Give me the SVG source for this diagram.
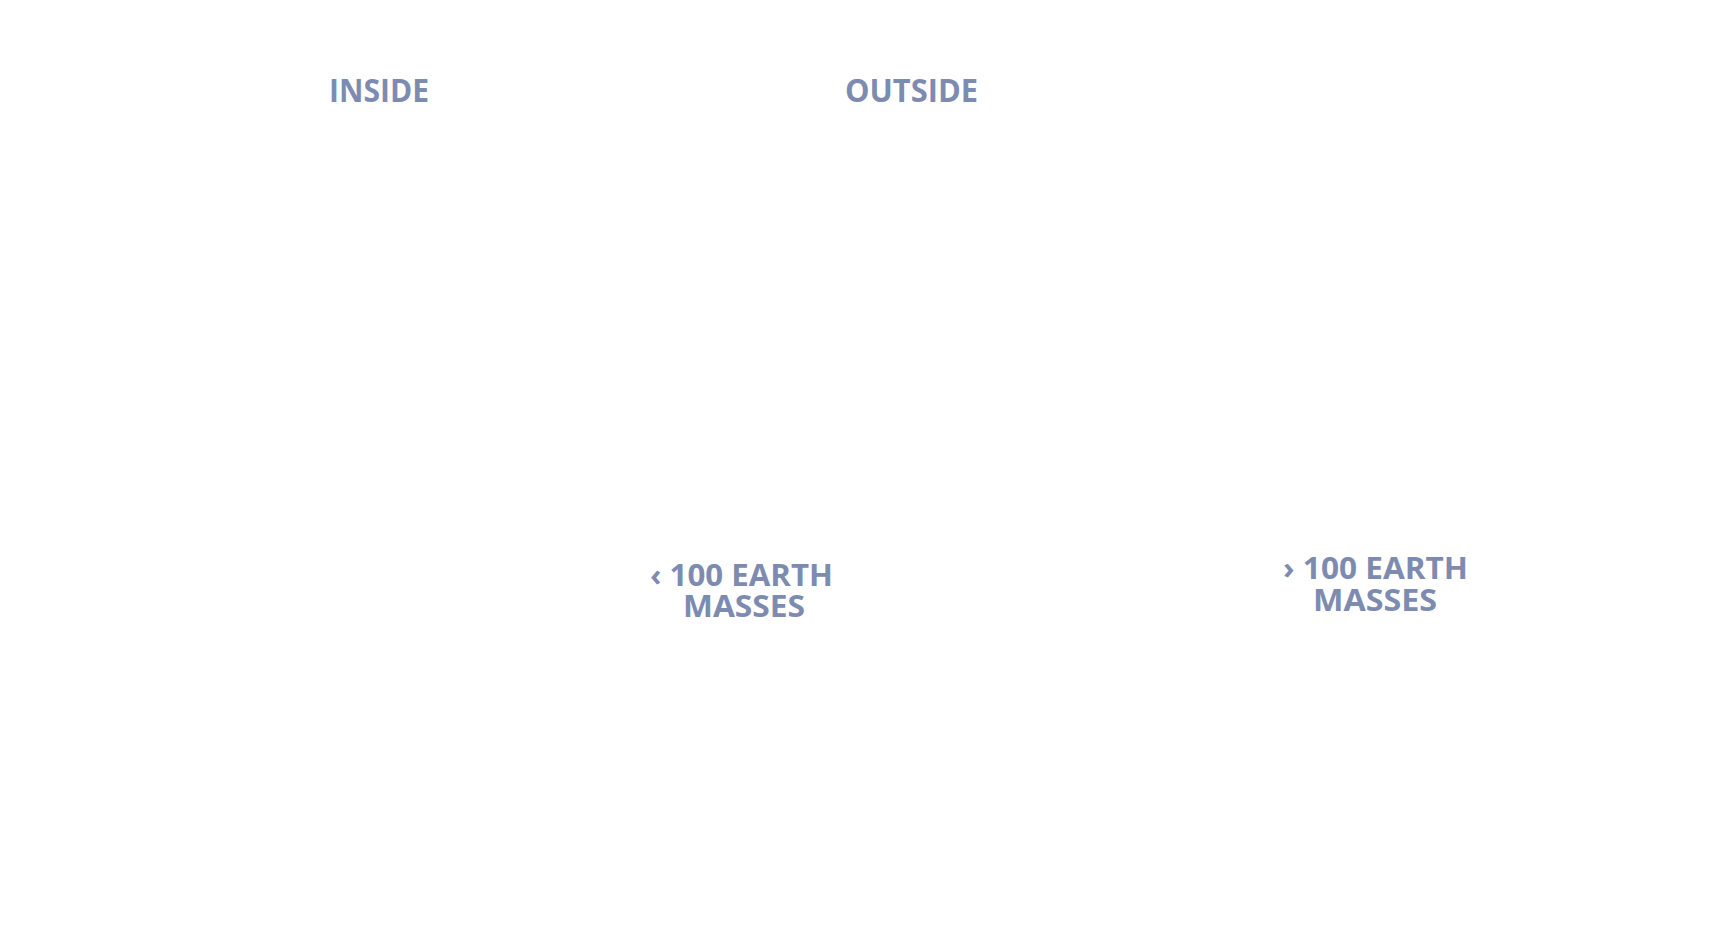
<svg xmlns="http://www.w3.org/2000/svg" width="1721" height="952" viewBox="0 0 1721 952">
<style>
.t{font-family:"Open Sans","Liberation Sans",sans-serif;font-weight:700;fill:#7e8bb0;font-size:32px}
.s{font-size:30px}
</style>
<rect width="1721" height="952" fill="#ffffff"/>
<g id="inside"><text class="t" x="329" y="102" textLength="100" lengthAdjust="spacingAndGlyphs">INSIDE</text></g>
<g id="outside"><text class="t" x="845" y="102" textLength="133" lengthAdjust="spacingAndGlyphs">OUTSIDE</text></g>
<g id="less">
<text class="t s"><tspan x="650" y="586" textLength="183" lengthAdjust="spacingAndGlyphs">‹ 100 EARTH</tspan><tspan x="683" y="617" textLength="122" lengthAdjust="spacingAndGlyphs">MASSES</tspan></text>
</g>
<g id="more">
<text class="t s"><tspan x="1283" y="579" textLength="185" lengthAdjust="spacingAndGlyphs">› 100 EARTH</tspan><tspan x="1313" y="611" textLength="124" lengthAdjust="spacingAndGlyphs">MASSES</tspan></text>
</g>
<g id="connectors"/>
</svg>
